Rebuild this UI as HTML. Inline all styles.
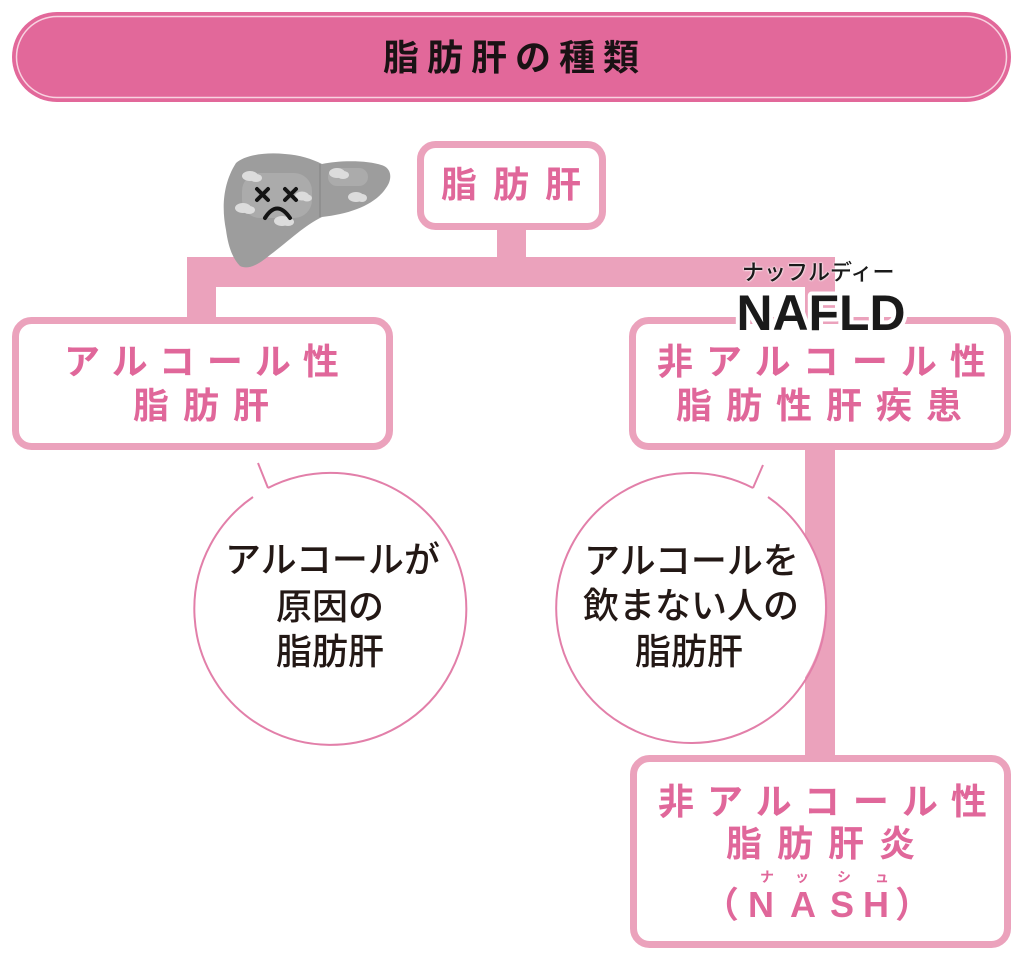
<!DOCTYPE html>
<html><head><meta charset="utf-8">
<style>
html,body{margin:0;padding:0;background:#fff;}
body{width:1025px;height:961px;position:relative;overflow:hidden;}
svg{position:absolute;left:0;top:0;}
.t{position:absolute;white-space:nowrap;font-family:"Liberation Sans","Noto Sans CJK JP",sans-serif;}
.p{color:#E0679A;font-weight:700;font-size:36px;line-height:36px;}
.k{color:#231815;font-weight:500;font-size:36px;line-height:36px;}
.c{position:absolute;width:40px;text-align:center;}
</style></head><body>
<svg width="1025" height="961" viewBox="0 0 1025 961">
  <!-- header -->
  <rect x="12" y="12" width="999" height="90" rx="45" fill="#E2689A"/>
  <rect x="16.5" y="16.5" width="990" height="81" rx="40.5" fill="none" stroke="#F8D3E1" stroke-width="1.5"/>
  <!-- connectors -->
  <g fill="#EBA2BC">
    <rect x="497" y="226" width="29" height="33"/>
    <rect x="187" y="257" width="648" height="30"/>
    <rect x="187" y="257" width="29" height="64"/>
    <rect x="805" y="257" width="30" height="64"/>
    <rect x="805" y="446" width="30" height="313"/>
  </g>
  <!-- boxes -->
  <g fill="#fff" stroke="#EBA2BC" stroke-width="7">
    <rect x="420.5" y="144.5" width="182" height="82" rx="15"/>
    <rect x="15.5" y="320.5" width="374" height="126" rx="16"/>
    <rect x="632.5" y="320.5" width="375" height="126" rx="16"/>
    <rect x="633.5" y="758.5" width="374" height="186" rx="16"/>
  </g>
  <!-- liver -->
  <g>
    <path d="M236 163 C245 155,265 152,285 154 C300 155,312 159,322 164 C340 160,370 160,384 166 C392 170,392 180,386 188 C375 205,350 214,322 217 C305 225,290 240,270 255 C258 265,248 270,240 266 C232 258,228 245,226 230 C222 210,222 185,236 163 Z" fill="#9d9d9d"/>
    <rect x="242" y="173" width="70" height="45" rx="18" fill="#ababab"/>
    <rect x="328" y="168" width="40" height="18" rx="9" fill="#ababab"/>
    <line x1="320" y1="164" x2="320" y2="217" stroke="#878787" stroke-width="1.2"/>
    <g fill="#dcdcdc">
      <ellipse cx="250" cy="176" rx="8" ry="5"/><ellipse cx="256" cy="178" rx="6" ry="4"/>
      <ellipse cx="337" cy="173" rx="8" ry="5"/><ellipse cx="343" cy="175" rx="6" ry="4"/>
      <ellipse cx="356" cy="197" rx="8" ry="5"/><ellipse cx="362" cy="198" rx="5" ry="4"/>
      <ellipse cx="243" cy="208" rx="8" ry="5"/><ellipse cx="249" cy="210" rx="6" ry="4"/>
      <ellipse cx="302" cy="196" rx="7" ry="4.5"/><ellipse cx="307" cy="198" rx="5" ry="3.5"/>
      <ellipse cx="282" cy="221" rx="8" ry="5"/><ellipse cx="288" cy="222" rx="6" ry="4"/>
    </g>
    <g stroke="#141414" stroke-width="4" stroke-linecap="round" fill="none">
      <path d="M257 189 L268 200 M268 189 L257 200"/>
      <path d="M285 189 L296 200 M296 189 L285 200"/>
      <path d="M265 218 Q277 199 290 218"/>
    </g>
  </g>
  <!-- circles -->
  <circle cx="333" cy="607" r="135" fill="#fff"/>
  <path d="M268 488 A136 136 0 1 1 253 497 M258 463 L268 488" fill="none" stroke="#E27FA9" stroke-width="2"/>
  <circle cx="691" cy="607" r="134" fill="#fff"/>
  <path d="M753 488 A135 135 0 1 0 768 497 M763 465 L753 488" fill="none" stroke="#E27FA9" stroke-width="2"/>
  <!-- NAFLD -->
  <text x="736.5" y="330" font-family="Liberation Sans, sans-serif" font-weight="700" font-size="50" textLength="169" lengthAdjust="spacingAndGlyphs" fill="#1a1a1a" stroke="#fff" stroke-width="8" stroke-linejoin="round" style="paint-order:stroke">NAFLD</text>
</svg>

<div class="t" style="left:383px;top:39.5px;font-size:36px;line-height:36px;font-weight:700;color:#1a1214;letter-spacing:8px;">脂肪肝の種類</div>

<div class="t p" style="left:441px;top:167px;letter-spacing:16px;">脂肪肝</div>

<div class="t p" style="left:64px;top:344px;letter-spacing:12px;">アルコール性</div>
<div class="t p" style="left:133px;top:388px;letter-spacing:14px;">脂肪肝</div>

<div class="t" style="left:742px;top:262px;font-size:22px;line-height:22px;font-weight:500;color:#1a1a1a;text-shadow:0 0 2px #fff,0 0 2px #fff;">ナッフルディー</div>
<div class="t p" style="left:657px;top:344px;letter-spacing:13px;">非アルコール性</div>
<div class="t p" style="left:676px;top:388px;letter-spacing:14px;">脂肪性肝疾患</div>

<div class="t k" style="left:225px;top:542px;">アルコールが</div>
<div class="t k" style="left:276px;top:588.5px;">原因の</div>
<div class="t k" style="left:276px;top:634px;">脂肪肝</div>

<div class="t k" style="left:584px;top:543px;">アルコールを</div>
<div class="t k" style="left:583px;top:588px;">飲まない人の</div>
<div class="t k" style="left:635px;top:634px;">脂肪肝</div>

<div class="t p" style="left:658px;top:784px;letter-spacing:13px;">非アルコール性</div>
<div class="t p" style="left:726px;top:826px;letter-spacing:15px;">脂肪肝炎</div>
<div class="t" style="left:0;top:869px;width:1025px;height:16px;color:#E0679A;font-weight:700;font-size:14px;line-height:16px;">
  <span class="c" style="left:747px;">ナ</span><span class="c" style="left:782px;">ッ</span><span class="c" style="left:824px;">シ</span><span class="c" style="left:862px;">ュ</span>
</div>
<div class="t p" style="left:0;top:887px;width:1025px;height:40px;">
  <span class="c" style="left:703px;width:36px;text-align:left;">（</span>
  <span class="c" style="left:741px;">N</span>
  <span class="c" style="left:783px;">A</span>
  <span class="c" style="left:822px;">S</span>
  <span class="c" style="left:856px;">H</span>
  <span class="c" style="left:895px;width:36px;text-align:left;">）</span>
</div>
</body></html>
